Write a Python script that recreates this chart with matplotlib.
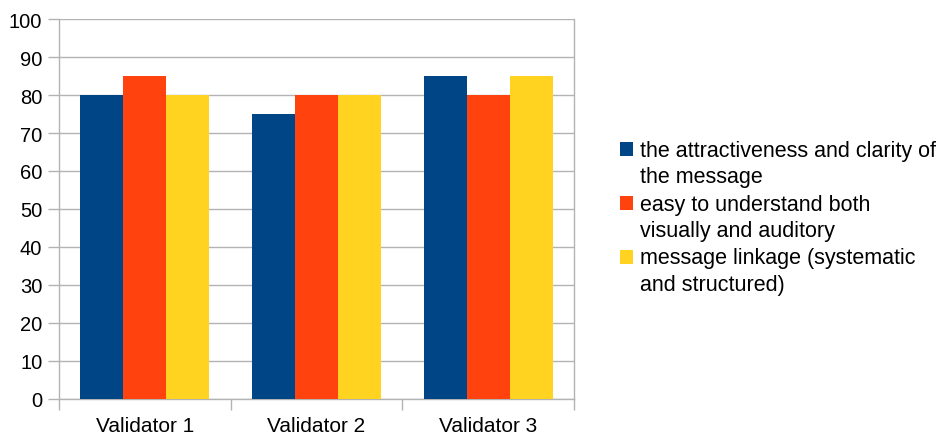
import numpy as np
import matplotlib
matplotlib.use('Agg')
import matplotlib.pyplot as plt
from matplotlib.patches import Rectangle
from matplotlib.container import BarContainer
from matplotlib.legend_handler import HandlerPatch

plt.rcParams['font.family'] = ['Liberation Sans', 'DejaVu Sans']

# data
validators = ['Validator 1', 'Validator 2', 'Validator 3']
attractiveness = [80, 75, 85]
easy_to_understand = [85, 80, 80]
linkage = [80, 80, 85]
series_labels = ['the attractiveness and clarity of\nthe message',
                 'easy to understand both\nvisually and auditory',
                 'message linkage (systematic\nand structured)']
colors = ['#004586', '#ff420e', '#ffd320']

fig = plt.figure(figsize=(9.42, 4.39), dpi=100)
ax = fig.add_axes([59/942, 1 - 400/439, (574 - 59)/942, 380/439])

x = np.arange(len(validators))
w = 0.25
for i, (vals, lab, c) in enumerate(zip([attractiveness, easy_to_understand, linkage], series_labels, colors)):
    ax.bar(x + (i - 1) * w, vals, width=w, color=c, label=lab, zorder=3)

ax.set_xlim(-0.5, 2.5)
ax.set_ylim(0, 100)
ax.set_yticks(range(0, 101, 10))
ax.yaxis.grid(True, color='#b3b3b3', linewidth=1, zorder=0)

# category labels centred, tick marks at the group boundaries
ax.set_xticks(x)
ax.set_xticklabels(validators)
ax.tick_params(axis='x', which='major', length=0, pad=12, labelsize=15)
ax.set_xticks(np.arange(-0.5, 2.6, 1), minor=True)
ax.tick_params(axis='x', which='minor', length=8, color='#b3b3b3', width=1)
ax.tick_params(axis='y', length=8, color='#b3b3b3', width=1, labelsize=14.5, pad=4)

for side in ['left', 'right', 'bottom']:
    ax.spines[side].set_color('#b3b3b3')
    ax.spines[side].set_linewidth(1)
ax.spines['top'].set_visible(False)


# legend square sits on the first line of the two-line label
def top_square(legend, orig_handle, xdescent, ydescent, width, height, fontsize):
    return Rectangle((-xdescent, -ydescent + 0.68 * fontsize), width, height)


def first_bar_colour(legend_handle, orig_handle):
    legend_handle.update_from(orig_handle[0])


leg = fig.legend(loc='center left', bbox_to_anchor=(611/942, 0.503), frameon=False,
                 fontsize=15.5, handlelength=0.6, handleheight=0.6, handletextpad=0.35,
                 labelspacing=0.3, borderaxespad=0,
                 handler_map={BarContainer: HandlerPatch(patch_func=top_square,
                                                         update_func=first_bar_colour)})
for t in leg.get_texts():
    t.set_linespacing(1.33)

plt.savefig('out.png', dpi=100)
